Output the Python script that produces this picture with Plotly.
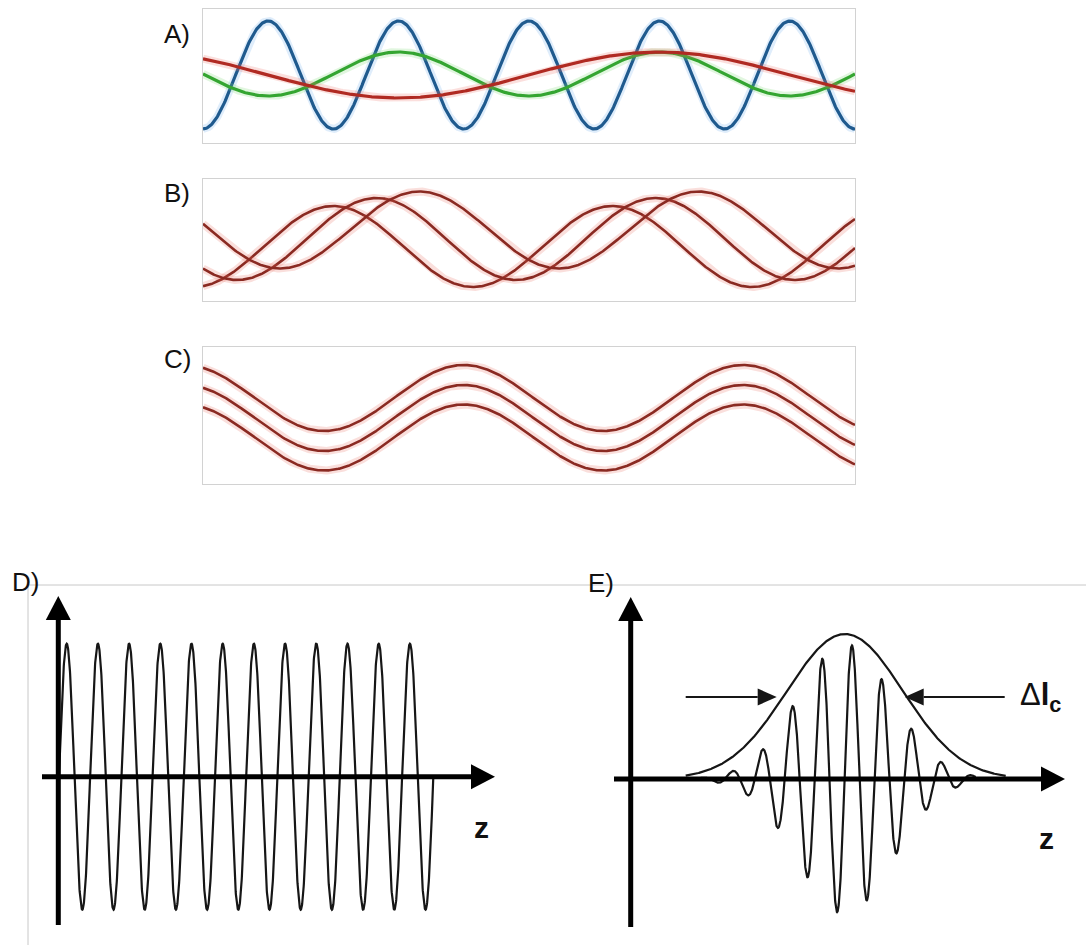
import numpy as np
import plotly.graph_objects as go

W, H = 1086, 945

# ---------------- Panel A: three waves of different wavelength ----------------
A_WAVELENGTH = [1.0, 2.0, 4.0]          # blue, green, red
A_AMPLITUDE = [54, 22, 23]
A_CREST = [0.5, 1.5, 3.5]
A_OFFSET = [1, 2, 1]
A_COLOR = ["#1f5a8e", "#34a531", "#b02a22"]
A_GLOW = ["rgba(110,175,235,0.22)", "rgba(120,215,110,0.22)", "rgba(235,110,100,0.22)"]

# ---------------- Panel B: same wavelength, different phase ----------------
B_WAVELENGTH = [2.14, 2.14, 2.14]
B_AMPLITUDE = [40.5, 41, 38.5]
B_CREST = [1.0, 1.33, 1.66]
B_OFFSET = [-6.5, 1, 10]

# ---------------- Panel C: same wavelength, same phase ----------------
C_WAVELENGTH = [2.14, 2.14, 2.14]
C_AMPLITUDE = [33, 33, 33]
C_CREST = [2.0, 2.0, 2.0]
C_OFFSET = [17.5, -2.5, -22]

BC_COLOR = "#8a2a22"
BC_GLOW = "rgba(230,95,80,0.20)"
X_SPAN = [0, 5]

# ---------------- Panel D: monochromatic wave ----------------
D_AMPLITUDE = 133
D_PERIOD = 31.2
D_START = 0.6
D_CYCLES = 12

# ---------------- Panel E: wave packet ----------------
E_CARRIER_AMPLITUDE = 135
E_CARRIER_PERIOD = 29.9
E_CARRIER_CREST = 221.3
E_PACKET_CENTER = 214.3
E_PACKET_SIGMA = 47.3
E_CARRIER_SPAN = [70, 345]
E_ENVELOPE_AMPLITUDE = 145
E_ENVELOPE_CENTER = 214.3
E_ENVELOPE_SIGMA = 58
E_ENVELOPE_SPAN = [55, 375]
E_WIDTH_LEVEL = 82
E_ARROW_LEFT = [55, 146]    # tail, tip
E_ARROW_RIGHT = [374, 274]  # tail, tip

# axis arrow extents for D and E (tail/tip in data units)
D_AXIS = dict(x_tail=-16.3, x_tip=436.7, y_tail=-148.3, y_tip=180.7)
E_AXIS = dict(x_tail=-16.7, x_tip=434.3, y_tail=-148.0, y_tip=182.0)


def fx(px):
    return px / W


def fy(py):
    return 1 - py / H


fig = go.Figure()


def add_line(x, y, n, color, width, glow=None):
    xa, ya = ("x", "y") if n == 1 else (f"x{n}", f"y{n}")
    if glow:
        fig.add_trace(go.Scatter(x=x, y=y, mode="lines", xaxis=xa, yaxis=ya,
                                 line=dict(color=glow, width=8),
                                 hoverinfo="skip", showlegend=False))
    fig.add_trace(go.Scatter(x=x, y=y, mode="lines", xaxis=xa, yaxis=ya,
                             line=dict(color=color, width=width),
                             hoverinfo="skip", showlegend=False))


xs = np.linspace(X_SPAN[0], X_SPAN[1], 800)
for lam, amp, crest, off, col, glow in zip(A_WAVELENGTH, A_AMPLITUDE, A_CREST, A_OFFSET, A_COLOR, A_GLOW):
    add_line(xs, off + amp * np.cos(2 * np.pi * (xs - crest) / lam), 1, col, 3.2, glow)

for lam, amp, crest, off in zip(B_WAVELENGTH, B_AMPLITUDE, B_CREST, B_OFFSET):
    add_line(xs, off + amp * np.cos(2 * np.pi * (xs - crest) / lam), 2, BC_COLOR, 2.6, BC_GLOW)

for lam, amp, crest, off in zip(C_WAVELENGTH, C_AMPLITUDE, C_CREST, C_OFFSET):
    add_line(xs, off + amp * np.cos(2 * np.pi * (xs - crest) / lam), 3, BC_COLOR, 2.6, BC_GLOW)

# D
zd = np.linspace(D_START, D_START + D_CYCLES * D_PERIOD, 2000)
add_line(zd, D_AMPLITUDE * np.sin(2 * np.pi * (zd - D_START) / D_PERIOD), 4, "#161616", 2.2)

# E
ze = np.linspace(E_CARRIER_SPAN[0], E_CARRIER_SPAN[1], 2000)
carrier = (E_CARRIER_AMPLITUDE * np.exp(-(ze - E_PACKET_CENTER) ** 2 / (2 * E_PACKET_SIGMA ** 2))
           * np.cos(2 * np.pi * (ze - E_CARRIER_CREST) / E_CARRIER_PERIOD))
add_line(ze, carrier, 5, "#161616", 2.2)
zv = np.linspace(E_ENVELOPE_SPAN[0], E_ENVELOPE_SPAN[1], 600)
add_line(zv, E_ENVELOPE_AMPLITUDE * np.exp(-(zv - E_ENVELOPE_CENTER) ** 2 / (2 * E_ENVELOPE_SIGMA ** 2)),
         5, "#161616", 2.2)

box_axis = dict(showline=True, mirror=True, linecolor="#d2d2d2", linewidth=1,
                showgrid=False, zeroline=False, showticklabels=False, ticks="", fixedrange=True)
plain_axis = dict(visible=False, showgrid=False, zeroline=False, fixedrange=True)

layout = dict(
    width=W, height=H, margin=dict(l=0, r=0, t=0, b=0),
    paper_bgcolor="white", plot_bgcolor="white", showlegend=False,
    xaxis=dict(box_axis, domain=[fx(203), fx(855)], range=X_SPAN, anchor="y"),
    yaxis=dict(box_axis, domain=[fy(143), fy(9)], range=[-67, 67], anchor="x"),
    xaxis2=dict(box_axis, domain=[fx(203), fx(855)], range=X_SPAN, anchor="y2"),
    yaxis2=dict(box_axis, domain=[fy(301), fy(179)], range=[-61, 61], anchor="x2"),
    xaxis3=dict(box_axis, domain=[fx(203), fx(855)], range=X_SPAN, anchor="y3"),
    yaxis3=dict(box_axis, domain=[fy(484), fy(347)], range=[-68.5, 68.5], anchor="x3"),
    xaxis4=dict(plain_axis, domain=[fx(28), fx(560)], range=[28 - 58.3, 560 - 58.3], anchor="y4"),
    yaxis4=dict(plain_axis, domain=[0, fy(585)], range=[776.7 - 945, 776.7 - 585], anchor="x4"),
    xaxis5=dict(plain_axis, domain=[fx(560), 1], range=[560 - 630.7, 1086 - 630.7], anchor="y5"),
    yaxis5=dict(plain_axis, domain=[0, fy(585)], range=[779 - 945, 779 - 585], anchor="x5"),
)

shapes = [
    dict(type="line", xref="paper", yref="paper", x0=fx(28), x1=1, y0=fy(585), y1=fy(585),
         line=dict(color="#c8c8c8", width=1), layer="below"),
    dict(type="line", xref="paper", yref="paper", x0=fx(28), x1=fx(28), y0=fy(585), y1=0,
         line=dict(color="#c8c8c8", width=1), layer="below"),
]

HEAD_LEN, HEAD_HALF, AXIS_W = 24, 12.5, 5
for n, ax in ((4, D_AXIS), (5, E_AXIS)):
    xr, yr = f"x{n}", f"y{n}"
    shapes.append(dict(type="line", xref=xr, yref=yr, x0=ax["x_tail"], x1=ax["x_tip"] - HEAD_LEN + 2,
                       y0=0, y1=0, line=dict(color="black", width=AXIS_W)))
    shapes.append(dict(type="line", xref=xr, yref=yr, x0=0, x1=0, y0=ax["y_tail"],
                       y1=ax["y_tip"] - HEAD_LEN + 2, line=dict(color="black", width=AXIS_W)))
    t = ax["x_tip"]
    shapes.append(dict(type="path", xref=xr, yref=yr,
                       path=f"M {t},0 L {t - HEAD_LEN},{HEAD_HALF} L {t - HEAD_LEN},{-HEAD_HALF} Z",
                       fillcolor="black", line=dict(width=0)))
    t = ax["y_tip"]
    shapes.append(dict(type="path", xref=xr, yref=yr,
                       path=f"M 0,{t} L {HEAD_HALF},{t - HEAD_LEN} L {-HEAD_HALF},{t - HEAD_LEN} Z",
                       fillcolor="black", line=dict(width=0)))

# width arrows in E
SMALL_LEN, SMALL_HALF = 19, 8.5
for tail, tip in (E_ARROW_LEFT, E_ARROW_RIGHT):
    d = 1 if tip > tail else -1
    shapes.append(dict(type="line", xref="x5", yref="y5", x0=tail, x1=tip - d * SMALL_LEN,
                       y0=E_WIDTH_LEVEL, y1=E_WIDTH_LEVEL, line=dict(color="#161616", width=2)))
    shapes.append(dict(type="path", xref="x5", yref="y5",
                       path=(f"M {tip},{E_WIDTH_LEVEL} L {tip - d * SMALL_LEN},{E_WIDTH_LEVEL + SMALL_HALF} "
                             f"L {tip - d * SMALL_LEN},{E_WIDTH_LEVEL - SMALL_HALF} Z"),
                       fillcolor="#161616", line=dict(width=0)))

layout["shapes"] = shapes

LABEL_FONT = dict(family="Liberation Sans, Arial, sans-serif", size=26, color="#111111")
ann = []
for text, px, py in (("A)", 162, 34), ("B)", 162, 193), ("C)", 162, 359), ("D)", 10, 582), ("E)", 586, 583)):
    ann.append(dict(text=text, x=fx(px), y=fy(py), xref="paper", yref="paper",
                    xanchor="left", yanchor="middle", showarrow=False, font=LABEL_FONT))
Z_FONT = dict(family="Liberation Sans, Arial, sans-serif", size=30, color="#111111")
for px, py in ((481, 827), (1046, 838)):
    ann.append(dict(text="<b>z</b>", x=fx(px), y=fy(py), xref="paper", yref="paper",
                    xanchor="center", yanchor="middle", showarrow=False, font=Z_FONT))
ann.append(dict(text="Δ<b>l<sub>c</sub></b>", x=fx(1018), y=fy(697), xref="paper", yref="paper",
                xanchor="left", yanchor="middle", showarrow=False,
                font=dict(family="Liberation Sans, Arial, sans-serif", size=31, color="#111111")))
layout["annotations"] = ann

fig.update_layout(**layout)
fig.write_html("out.html")
